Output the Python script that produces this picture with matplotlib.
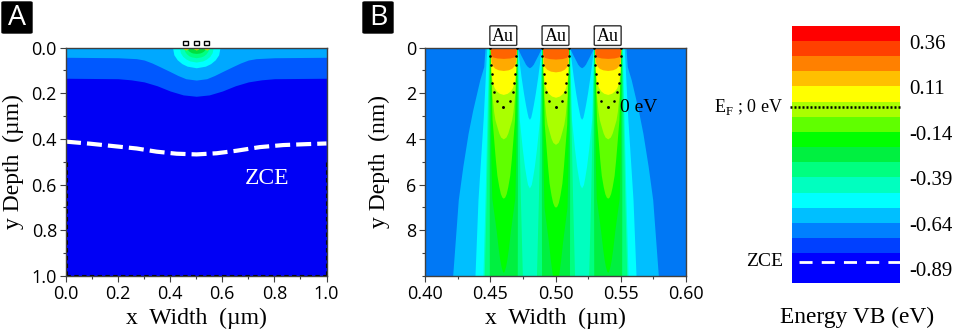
"""
Energy band maps (panels A and B) with the shared colour key.
"""

import matplotlib
matplotlib.use("Agg")
import matplotlib.pyplot as plt
import numpy as np
from matplotlib.patches import FancyBboxPatch, Rectangle
from matplotlib.ticker import MultipleLocator

plt.rcParams["font.family"] = "Open Sans"
plt.rcParams["mathtext.fontset"] = "custom"
plt.rcParams["mathtext.rm"] = "Liberation Serif"

SERIF = "Liberation Serif"
W, H = 957, 335

# Colour key
key_edges = [0.448, 0.364, 0.281, 0.197, 0.114, 0.031, -0.052, -0.136, -0.219,
             -0.303, -0.386, -0.469, -0.553, -0.636, -0.719, -0.803, -0.886, -0.964]
key_colors = ["#FF0000", "#FF4000", "#FF8000", "#FFBF00", "#FFFF00", "#AAFF00",
              "#60FF00", "#00FF00", "#00F040", "#00FF80", "#00FFBF", "#00FFFF",
              "#00BFFF", "#0080FF", "#0040FF", "#0000FF", "#0000FF"]
key_ticks = [0.36, 0.11, -0.14, -0.39, -0.64, -0.89]
key_labels = ["0.36", "0.11", "-0.14", "-0.39", "-0.64", "-0.89"]
fermi_level = 0.0
zce_level = -0.85

# Panel A: contour lines
a_band2_x = [0.0, 0.2, 0.25, 0.3, 0.35, 0.4, 0.45, 0.5, 0.55, 0.6, 0.65, 0.7, 0.75, 0.8, 1.0]
a_band2 = [0.134, 0.136, 0.141, 0.15, 0.167, 0.19, 0.207, 0.213, 0.207, 0.19, 0.167, 0.15,
           0.141, 0.136, 0.134]
a_band1_x = [0.0, 0.2, 0.27, 0.3, 0.33, 0.36, 0.4, 0.43, 0.46, 0.5,
             0.54, 0.57, 0.6, 0.64, 0.67, 0.7, 0.73, 0.8, 1.0]
a_band1 = [0.042, 0.044, 0.048, 0.054, 0.067, 0.083, 0.105, 0.122, 0.136, 0.142,
           0.136, 0.122, 0.105, 0.083, 0.067, 0.054, 0.048, 0.044, 0.042]
a_zce_x = [0.0, 0.092, 0.194, 0.271, 0.348, 0.425, 0.501, 0.578, 0.654, 0.744, 0.834, 0.923, 1.0]
a_zce_y = [0.412, 0.421, 0.433, 0.442, 0.456, 0.465, 0.468, 0.463, 0.452, 0.436, 0.427, 0.423, 0.420]
a_blobs = [
    ("#00FFFF", [0.0, 0.031, 0.053, 0.07, 0.081, 0.088], [0.091, 0.086, 0.073, 0.055, 0.035, 0.0]),
    ("#00FFBF", [0.0, 0.022, 0.038, 0.05, 0.058, 0.063], [0.065, 0.061, 0.052, 0.039, 0.025, 0.0]),
    ("#00FF80", [0.0, 0.015, 0.026, 0.035, 0.04, 0.044], [0.048, 0.045, 0.038, 0.029, 0.019, 0.0]),
    ("#00E040", [0.0, 0.009, 0.015, 0.02, 0.023, 0.025], [0.035, 0.033, 0.028, 0.021, 0.014, 0.0]),
]
contact_x_a = [0.46, 0.50, 0.54]

# Panel B: nested contours, depth against half width
b_env = [
    ("#00BFFF", [0, 0.83, 1.4, 2.75, 3.76, 5.2, 6.67, 10],
     [0.054, 0.055, 0.058, 0.0635, 0.067, 0.071, 0.0745, 0.0788]),
    ("#00FFFF", [0, 3, 6.67, 10], [0.0527, 0.0553, 0.0594, 0.0617]),
    ("#00FFBF", [0, 3, 6.67, 10], [0.0512, 0.0525, 0.054, 0.0556]),
]
finger_centres = [0.46, 0.50, 0.54]
finger_stretch = [1.0, 1.06, 1.0]
b_fingers_low = [
    ("#00FF80", [0, 3, 6.6, 10], [0.0108, 0.0118, 0.0131, 0.0146]),
    ("#00F040", [0, 3, 6.6, 10], [0.0106, 0.0108, 0.0108, 0.0107]),
]
b_gaps = [
    ("#00FFFF", [0, 3.16, 4.4, 5.2, 5.7, 6, 6.15], [0.0092, 0.0077, 0.0055, 0.0038, 0.0024, 0.0014, 0]),
    ("#00BFFF", [0, 1.27, 2, 2.5, 2.85, 3.05, 3.14], [0.0092, 0.0064, 0.0045, 0.003, 0.0018, 0.001, 0]),
    ("#0078F5", [0, 0.3, 0.55, 0.72, 0.82, 0.88], [0.0092, 0.0068, 0.0045, 0.003, 0.0016, 0]),
]
gap_centres = [0.48, 0.52]
b_fingers_high = [
    ("#00FF00", [0, 3, 5, 6.6, 8, 8.8, 9.3, 9.6, 9.8, 9.85],
     [0.0102, 0.0098, 0.0095, 0.0088, 0.0055, 0.0039, 0.0027, 0.0017, 0.0007, 0]),
    ("#60FF00", [0, 3.16, 4.9, 5.6, 6.1, 6.4, 6.55, 6.6],
     [0.0100, 0.0086, 0.0061, 0.0049, 0.0034, 0.0022, 0.0011, 0]),
    ("#AAFF00", [0, 2, 2.8, 3.16, 3.5, 3.75, 3.92, 4.0],
     [0.0100, 0.0088, 0.0074, 0.0064, 0.0047, 0.0034, 0.002, 0]),
    ("#FFFF00", [0, 1, 1.5, 1.75, 1.9, 2, 2.05], [0.0100, 0.0095, 0.0085, 0.007, 0.0052, 0.003, 0]),
    ("#FFAA00", [0, 0.6, 0.8, 0.9, 0.97, 1.0], [0.0100, 0.0095, 0.0082, 0.0065, 0.0038, 0]),
    ("#FF6400", [0, 0.3, 0.4, 0.45, 0.47], [0.0100, 0.0097, 0.0085, 0.005, 0]),
]
dot_depth = [0.0, 0.365, 0.76, 1.14, 1.54, 1.93, 2.32, 2.6]
dot_width = [0.0102, 0.0100, 0.0094, 0.0089, 0.0084, 0.0072, 0.0051, 0.0]


def px_axes(x0, y0, x1, y1):
    # pixel box, measured from the top left of the picture
    return fig.add_axes([x0 / W, 1 - y1 / H, (x1 - x0) / W, (y1 - y0) / H])


def tongue(ax, centre, depth, width, color, stretch=1.0):
    d = np.array(depth) * stretch
    w = np.array(width)
    ax.fill_betweenx(d, centre - w, centre + w, color=color, lw=0)


def style_map(ax, xlabel, ylabel):
    for spine in ax.spines.values():
        spine.set_color("#404040")
        spine.set_linewidth(1.0)
    ax.tick_params(which="major", length=4.5, width=0.8, color="#404040", labelsize=13, pad=2)
    ax.tick_params(which="minor", length=2.2, width=0.8, color="#404040")
    ax.set_xlabel(xlabel, family=SERIF, fontsize=17, labelpad=1)
    ax.set_ylabel(ylabel, family=SERIF, fontsize=17)


def badge(x0, letter):
    fig.add_artist(FancyBboxPatch((x0 / W, 1 - 33 / H), 30 / W, 31 / H,
                                  boxstyle="round,pad=0,rounding_size=0.002",
                                  transform=fig.transFigure, fc="black", ec="black", lw=1))
    fig.text((x0 + 15) / W, 1 - 18 / H, letter, color="white", fontsize=20.5,
             ha="center", va="center", family="Open Sans")


fig = plt.figure(figsize=(W / 100, H / 100), dpi=100)

# Panel A
ax_a = px_axes(66, 47.7, 326.5, 275.7)
ax_a.set_facecolor("#0000F5")
ax_a.fill_between(a_band2_x, 0, a_band2, color="#0058FF", lw=0)
ax_a.fill_between(a_band1_x, 0, a_band1, color="#00A8FF", lw=0)
for color, depth, width in a_blobs:
    tongue(ax_a, 0.5, depth, width, color)
for cx in contact_x_a:
    tongue(ax_a, cx, [0, 0.006, 0.01], [0.012, 0.009, 0], "#C8E000")
    ax_a.add_patch(Rectangle((cx - 0.009, -0.0285), 0.018, 0.0185, fc="white", ec="black",
                             lw=1.0, clip_on=False, zorder=5))
ax_a.plot(a_zce_x, a_zce_y, color="white", lw=3, ls=(0, (3.6, 1.45)), dash_capstyle="butt")
ax_a.plot([0.002, 0.002], [0.5, 1.0], color="black", lw=0.8, ls=(0, (4, 3)))
ax_a.plot([0.998, 0.998], [0.5, 1.0], color="black", lw=0.8, ls=(0, (4, 3)))
ax_a.plot([0, 1], [0.998, 0.998], color="black", lw=0.8, ls=(0, (4, 3)))
ax_a.text(0.77, 0.575, "ZCE", color="white", family=SERIF, fontsize=17, ha="center", va="center")
ax_a.set_xlim(0, 1)
ax_a.set_ylim(1, 0)
ax_a.xaxis.set_major_locator(MultipleLocator(0.2))
ax_a.xaxis.set_minor_locator(MultipleLocator(0.1))
ax_a.yaxis.set_major_locator(MultipleLocator(0.2))
ax_a.yaxis.set_minor_locator(MultipleLocator(0.1))
style_map(ax_a, "x  Width  (µm)", "y Depth  (µm)")
ax_a.yaxis.set_label_coords((13 - 66) / 260.5, 0.5)
ax_a.xaxis.set_label_coords(0.5, -(318 - 275.7) / 228)
ax_a.xaxis.get_label().set_va("center")
ax_a.yaxis.get_label().set_va("center")

# Panel B
ax_b = px_axes(425, 47.7, 686, 275.7)
ax_b.set_facecolor("#0078F5")
for color, depth, width in b_env:
    tongue(ax_b, 0.5, depth, width, color)
for color, depth, width in b_fingers_low:
    for cx in finger_centres:
        tongue(ax_b, cx, depth, width, color)
for color, depth, width in b_gaps:
    for cx in gap_centres:
        tongue(ax_b, cx, depth, width, color)
for color, depth, width in b_fingers_high:
    for cx, stretch in zip(finger_centres, finger_stretch):
        tongue(ax_b, cx, depth, width, color, stretch)
for cx in finger_centres:
    dots_x = np.concatenate([cx - np.array(dot_width), cx + np.array(dot_width)])
    dots_y = np.concatenate([dot_depth, dot_depth])
    ax_b.scatter(dots_x, dots_y, s=3.5, color="black", lw=0, zorder=4)
    ax_b.add_patch(FancyBboxPatch((cx - 0.0103, -0.96), 0.0206, 0.86,
                                  boxstyle="round,pad=0,rounding_size=0.001",
                                  mutation_aspect=40, fc="white", ec="#303030", lw=1.0,
                                  clip_on=False, zorder=5))
    ax_b.text(cx, -0.5, "Au", family=SERIF, fontsize=13, ha="center", va="center", zorder=6)
ax_b.text(0.5495, 2.62, "0 eV", family=SERIF, fontsize=14, ha="left", va="center")
ax_b.set_xlim(0.40, 0.60)
ax_b.set_ylim(10, 0)
ax_b.xaxis.set_minor_locator(MultipleLocator(0.025))
ax_b.yaxis.set_minor_locator(MultipleLocator(1))
ax_b.set_yticks([0, 2, 4, 6, 8])
ax_b.set_xticks([0.40, 0.45, 0.50, 0.55, 0.60])
ax_b.set_xticklabels(["0.40", "0.45", "0.50", "0.55", "0.60"])
style_map(ax_b, "x  Width  (µm)", "y Depth  (nm)")
ax_b.yaxis.set_label_coords((379 - 425) / 261, 0.5)
ax_b.xaxis.set_label_coords(0.5, -(318 - 275.7) / 228)
ax_b.xaxis.get_label().set_va("center")
ax_b.yaxis.get_label().set_va("center")

# Colour key
ax_k = px_axes(791.7, 25.7, 900, 282.7)
for top, bottom, color in zip(key_edges[:-1], key_edges[1:], key_colors):
    ax_k.bar(0.5, top - bottom, bottom=bottom, width=1, color=color, lw=0)
ax_k.set_xlim(0, 1)
ax_k.set_ylim(key_edges[-1], key_edges[0])
ax_k.set_xticks([])
ax_k.yaxis.tick_right()
ax_k.set_yticks(key_ticks)
ax_k.set_yticklabels(key_labels, family=SERIF, fontsize=15)
ax_k.tick_params(axis="y", length=0, pad=6.5)
for spine in ax_k.spines.values():
    spine.set_visible(False)
ax_k.plot([-0.02, 1.01], [fermi_level, fermi_level], color="black", lw=1.8,
          ls=(0, (0.8, 0.8)), clip_on=False)
ax_k.plot([0.07, 1.0], [zce_level, zce_level], color="white", lw=2, ls=(0, (4.7, 3.3)))
ax_k.text(-0.08, fermi_level, r"E$_{\mathrm{F}}$ ; 0 eV", family=SERIF, fontsize=13,
          ha="right", va="center")
ax_k.text(-0.08, zce_level, "ZCE", family=SERIF, fontsize=14, ha="right", va="center")
fig.text(857 / W, 1 - 317 / H, "Energy VB (eV)", family=SERIF, fontsize=16.8,
         ha="center", va="center")

badge(2, "A")
badge(363, "B")

fig.savefig("out.png", dpi=100)
